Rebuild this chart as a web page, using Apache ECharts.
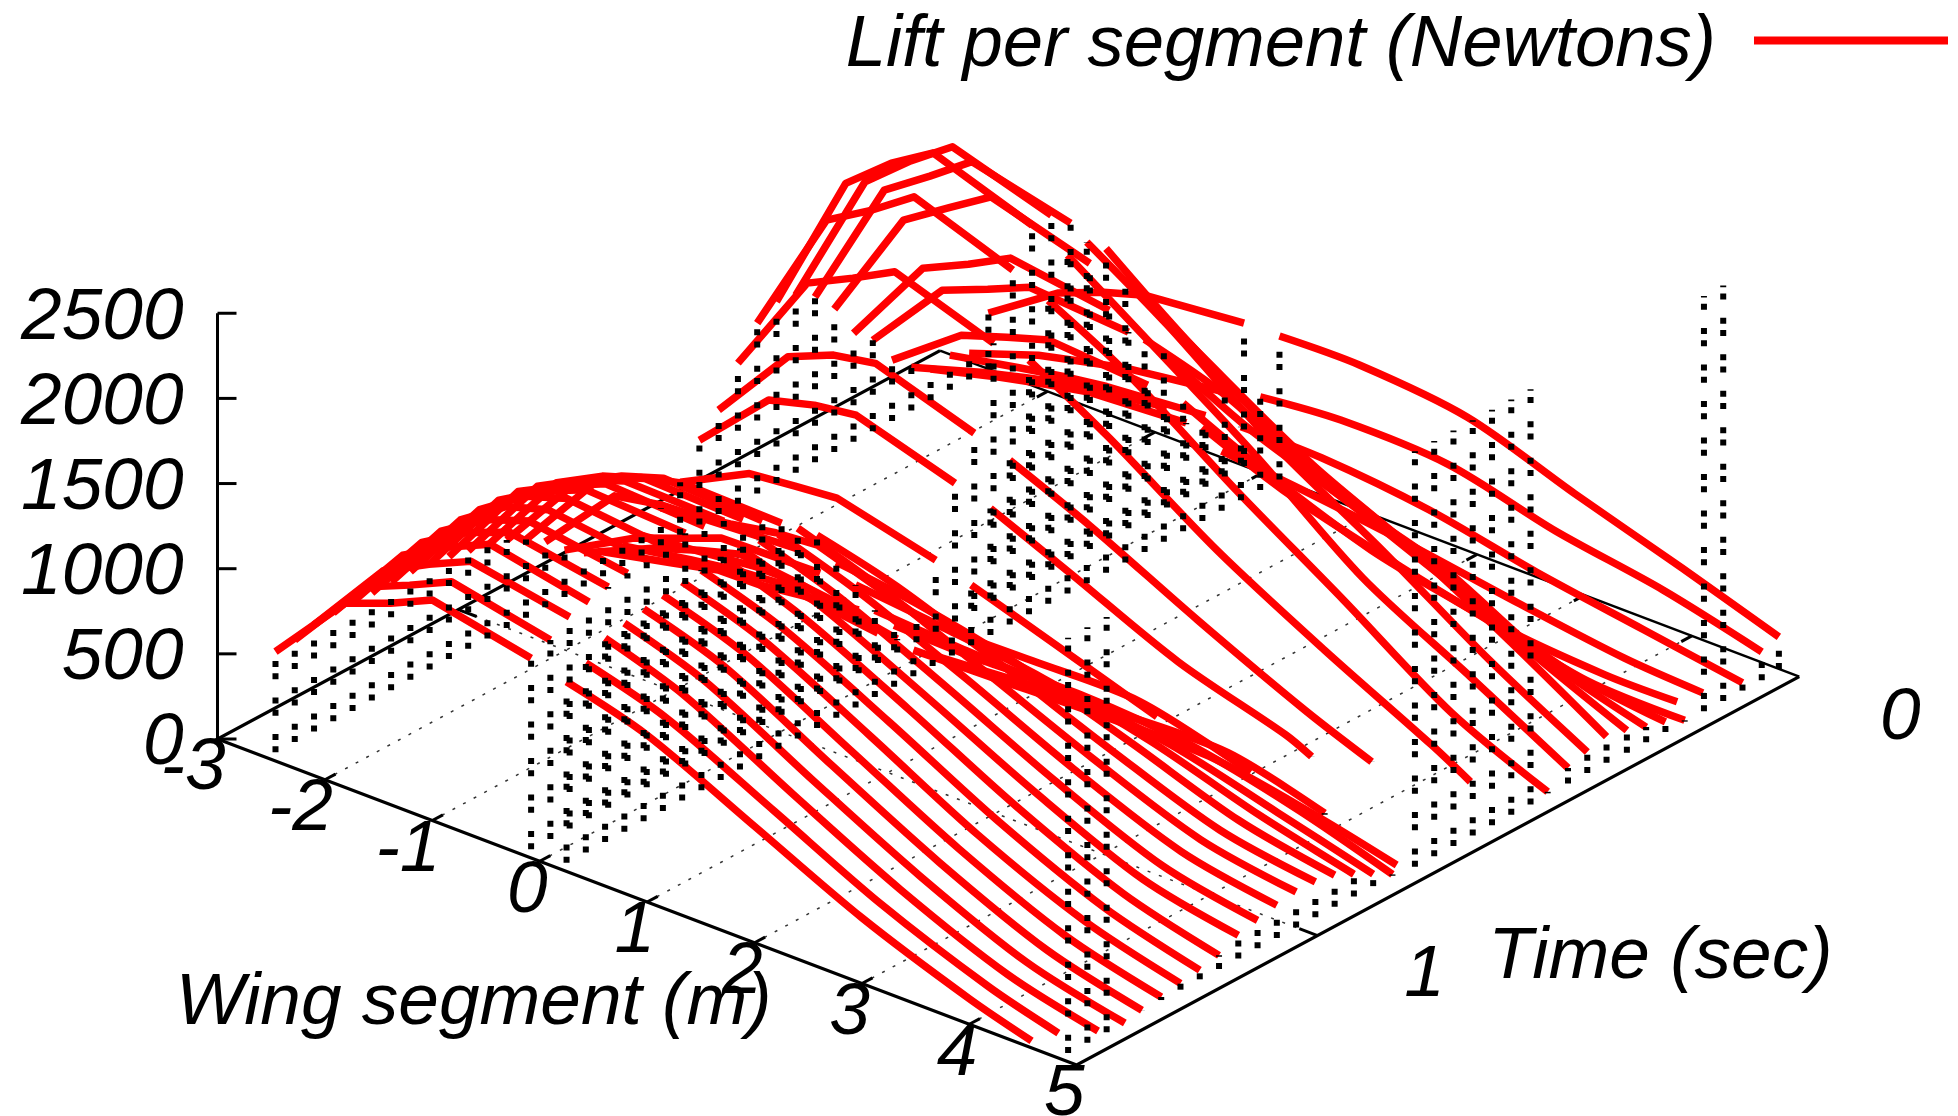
<!DOCTYPE html>
<html>
<head>
<meta charset="utf-8">
<style>html,body{margin:0;padding:0;background:#fff}#c{width:1958px;height:1116px}</style>
<script src="https://cdn.jsdelivr.net/npm/echarts@6/dist/echarts.min.js"></script>
</head>
<body>
<div id="c"></div>
<script>
// ---- data ----
const legendName = 'Lift per segment (Newtons)';
const wingName = 'Wing segment (m)';
const timeName = 'Time (sec)';
const wingTicks = [-3,-2,-1,0,1,2,3,4,5];
const timeTicks = [0,1];
const liftTicks = [0,500,1000,1500,2000,2500];
const slices = [1.5,1.46,1.42,1.38,1.34,1.3,1.26,1.22,1.18,1.14,1.1,1.06,1.02,0.98,0.94,0.9,0.86,0.82,0.78,0.74,0.7,0.66,0.62,0.58,0.54,0.5,0.46,0.42,0.38,0.34,0.3,0.26,0.22,0.18,0.14,0.1,0.06,0.02];
const leftX = [-2.46,-1.815,-1.39,-1,-0.08];
const leftLift = [
[642,1080,1182,1295,1173],[650,1115,1228,1341,1219],[678,1150,1290,1400,1294],[687,1180,1330,1440,1321],
[690,1195,1355,1450,1348],[683,1200,1370,1455,1368],[685,1205,1385,1460,1385],[686,1205,1385,1465,1400],
[670,1200,1355,1455,1421],[652,1190,1325,1430,1400],[625,1160,1300,1385,1370],[595,1120,1260,1340,1320],
[568,1060,1200,1280,1250],[510,1000,1130,1190,1175],[436,860,910,924,957],[326,551,652,746,761],
[250,430,520,590,520],[195,283,344,350,423],[170,240,280,300,226],[170,210,240,240,130],
[270,330,380,400,210],[360,565,593,616,472],[546,936,1008,1042,863],[662,1129,1241,1286,1096],
[877,1501,1632,1763,1563],[1051,1810,1971,2142,1932],[1116,1965,2186,2339,2135],[1094,1914,2138,2314,2133],
[1022,1804,1988,2166,2025],[890,1567,1742,1898,1728],[688,1224,1349,1478,1392],[586,1033,1141,1246,1203],
[408,709,799,875,831],[305,430,500,560,640],[234,340,400,450,487],[255,335,385,420,470],
[205,348,411,467,546],[380,652,759,834,891]];
const rightX = [0.25,1,2,3,4];
const rightTip = [4.58,4.65,4.84,4.91,4.89,4.89,4.89,4.89,4.89,4.89,4.89,4.89,4.89,4.89,4.89,4.89,4.89,4.89,4.75,3.9,3.03,1.98,3.24,3.62,4.36,4.9,4.91,4.91,4.91,4.92,4.92,4.92,4.92,4.67,4.73,4.92,4.92,4.9];
const rightLift = [
[1114,980,684,386,150,41],[1163,1020,715,405,160,43],[1249,1085,750,430,170,40],[1276,1115,775,450,180,42],
[1298,1140,800,470,195,52],[1319,1160,825,490,215,69],[1336,1175,850,510,240,88],[1344,1185,870,535,260,105],
[1361,1195,885,555,280,131],[1351,1190,890,575,305,188],[1339,1180,890,585,325,215],[1310,1150,880,590,345,243],
[1286,1125,860,590,355,260],[1184,1060,825,575,350,258],[965,900,760,560,345,237],[770,720,640,510,320,182],
[561,530,500,430,270,121],[411,400,420,370,230,59],[205,220,240,240,130,20],[115,150,190,200,60],
[190,200,200,30],[405,250,45],[794,589,311,122,52],[1016,809,496,206,52],
[1544,1264,846,499,180,51],[1832,1574,1137,731,312,60],[2037,1716,1282,800,460,141],[2054,1746,1280,903,496,175],
[1955,1597,1187,900,552,204],[1726,1419,1040,752,434,182],[1300,1152,834,633,315,141],[1157,916,685,425,195,110],
[804,590,360,220,75,59],[602,412,240,99,45,47],[400,352,270,170,82,53],[483,480,414,288,188,97],
[598,641,620,468,361,218],[894,902,836,626,428,240]];
const tallSlices = [0,1,2,18,19,20,21,22,23,24,33,34];
const tallX = 4.92;
const tallLift = 2490;

// ---- view: the same fixed oblique view for every mark ----
const tMax = 1.5;
function project(x,t,z){
  const u=x+3, s=tMax-t;
  return [217.5+107.4*u+481.7*s, 739+40.75*u-258.9*s-0.1703*z];
}
const series=[];
function seg(pts,color,width,z,dash,offset){
  series.push({type:'line',data:pts,symbol:'none',silent:true,clip:false,animation:false,z:z,
    lineStyle:{color:color,width:width,type:dash||'solid',dashOffset:offset||0,cap:'butt',join:'miter'},
    itemStyle:{color:color}});
}
// dotted grid
wingTicks.slice(1,-1).forEach(x=>seg([project(x,1.48,0),project(x,0.02,0)],'#333',1.5,1,[3,9]));
seg([project(-2.85,1,0),project(4.85,1,0)],'#333',1.5,1,[3,9]);
// base frame
seg([project(-3,0,0),project(-3,1.5,0),project(5,1.5,0),project(5,0,0)],'#000',3.2,2);
seg([project(-3,0,0),project(5,0,0)],'#000',2.6,2);
// ticks
wingTicks.slice(1,-1).forEach(x=>{
  seg([project(x,1.5,0),project(x,1.478,0)],'#000',3,2);
  seg([project(x,0,0),project(x,0.022,0)],'#000',3,2);
});
[1].forEach(t=>{
  seg([project(5,t,0),project(4.83,t,0)],'#000',3,2);
  seg([project(-3,t,0),project(-2.83,t,0)],'#000',3,2);
});
seg([project(-3,1.5,0),project(-3,1.5,2500)],'#000',3,2);
liftTicks.forEach(v=>{
  const p=project(-3,1.5,v);
  seg([p,[p[0]+19,p[1]]],'#000',3,2);
});
// red lift curves
const redStyle={color:'#ff0000',width:7.5,cap:'butt',join:'round'};
slices.forEach((t,k)=>{
  series.push({name:legendName,type:'line',symbol:'none',silent:true,clip:false,animation:false,z:3,
    data:leftX.map((x,i)=>project(x,t,leftLift[k][i])),
    lineStyle:redStyle,itemStyle:{color:'#ff0000'}});
  const r=rightLift[k];
  series.push({name:legendName,type:'line',symbol:'none',silent:true,clip:false,animation:false,z:3,smooth:0.3,
    data:r.map((v,i)=>project(i===r.length-1?rightTip[k]:rightX[i],t,v)),
    lineStyle:redStyle,itemStyle:{color:'#ff0000'}});
});
// dotted impulses at the ends of each curve piece
const dash=[6,6.2,6,18.3], off=27.8;
function impulse(x,t,v){ seg([project(x,t,0),project(x,t,v)],'#000',6,4,dash,off); }
slices.forEach((t,k)=>{
  impulse(leftX[0],t,leftLift[k][0]);
  impulse(leftX[4],t,leftLift[k][4]);
  impulse(rightX[0],t,rightLift[k][0]);
  impulse(rightTip[k],t,rightLift[k][rightLift[k].length-1]);
});
tallSlices.forEach(k=>impulse(tallX,slices[k],tallLift));
// text
const texts=[];
const font={fontFamily:'"Liberation Sans",Arial,sans-serif',fontStyle:'italic',fontSize:73,color:'#000'};
function put(p,text,align,ox,oy){
  texts.push({value:p,label:{...font,position:'inside',align:align,verticalAlign:'middle',offset:[ox,oy],formatter:text}});
}
liftTicks.forEach(v=>put(project(-3,1.5,v),String(v),'right',-34,5));
wingTicks.forEach(x=>put(project(x,1.5,0),String(x),'right',8,30));
put(project(5,0,0),String(timeTicks[0]),'center',101,42);
put(project(5,1,0),String(timeTicks[1]),'center',107,40);
put(project(0,1.5,0),wingName,'center',-66,142);
put(project(5,0.5,0),timeName,'center',102,152);
series.push({type:'scatter',data:texts,symbolSize:1,silent:true,animation:false,clip:false,z:6,itemStyle:{color:'rgba(0,0,0,0)',opacity:1},label:{show:true}});

const chart=echarts.init(document.getElementById('c'),null,{renderer:'canvas'});
chart.setOption({
  animation:false,
  backgroundColor:'#fff',
  grid:{left:0,right:0,top:0,bottom:0},
  xAxis:{type:'value',min:0,max:1958,show:false},
  yAxis:{type:'value',min:0,max:1116,inverse:true,show:false},
  legend:{data:[{name:legendName,icon:'rect'}],right:10,top:9,align:'right',orient:'horizontal',selectedMode:false,
    itemWidth:194,itemHeight:8,padding:0,
    formatter:'{a|{name}}',
    textStyle:{rich:{a:{fontFamily:font.fontFamily,fontStyle:'italic',fontSize:72.5,color:'#000',padding:[10,33,0,0]}}}},
  series:series
});
</script>
</body>
</html>
